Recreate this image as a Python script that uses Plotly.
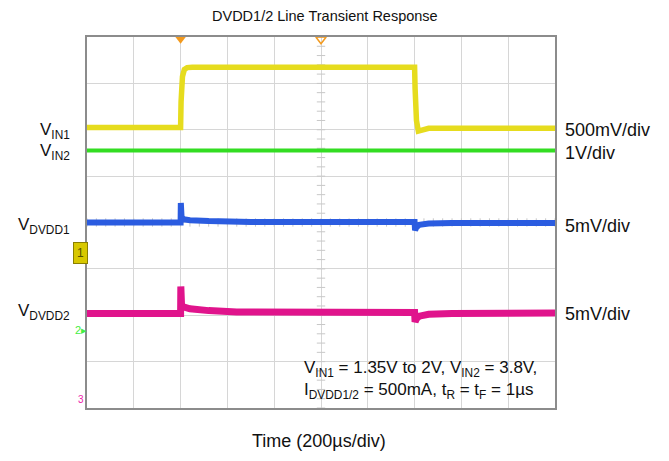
import numpy as np
import plotly.graph_objects as go

# ---------------- data (time in divisions, amplitude in screen divisions) ----------------
t_vin1 = [0, 2.0, 2.01, 2.04, 2.08, 2.14, 2.25, 7.0, 7.01, 7.04, 7.08, 7.14, 7.3, 10]
v_vin1 = [6.05, 6.05, 6.6, 7.15, 7.3, 7.34, 7.35, 7.35, 6.9, 6.2, 5.97, 5.99, 6.03, 6.03]

t_vin2 = [0, 10]
v_vin2 = [5.55, 5.55]

t_dvdd1 = [0, 2.0, 2.005, 2.02, 2.06, 2.2, 2.6, 3.5, 7.0, 7.01, 7.04, 7.1, 7.3, 7.8, 10]
v_dvdd1 = [4.0, 4.0, 4.42, 4.12, 4.07, 4.05, 4.03, 4.01, 4.01, 3.83, 3.9, 3.95, 3.98, 3.99, 3.99]

t_dvdd2 = [0, 2.0, 2.005, 2.02, 2.06, 2.2, 2.6, 3.2, 7.0, 7.01, 7.04, 7.1, 7.3, 7.8, 10]
v_dvdd2 = [2.04, 2.04, 2.62, 2.22, 2.18, 2.14, 2.1, 2.07, 2.06, 1.86, 1.93, 1.98, 2.02, 2.04, 2.05]

trigger_div = 2.0
center_div = 5.0

left_labels = ["V<sub>IN1</sub>", "V<sub>IN2</sub>", "V<sub>DVDD1</sub>", "V<sub>DVDD2</sub>"]
left_label_y = [5.97, 5.53, 3.92, 2.08]
right_labels = ["500mV/div", "1V/div", "5mV/div", "5mV/div"]
right_label_y = [6.0, 5.5, 3.93, 2.03]

title_text = "DVDD1/2 Line Transient Response"
xlabel_text = "Time (200µs/div)"
note_line1 = "V<sub>IN1</sub> = 1.35V to 2V, V<sub>IN2</sub> = 3.8V,"
note_line2 = "I<sub>DVDD1/2</sub> = 500mA, t<sub>R</sub> = t<sub>F</sub> = 1µs"

# ---------------- figure ----------------
FONT = "Liberation Sans, Arial, sans-serif"
fig = go.Figure()

# center-line minor ticks (scope graticule)
minor = np.arange(0, 10.001, 0.2)
minor_y = np.arange(0, 8.001, 0.2)
fig.add_trace(go.Scatter(x=minor, y=[4] * len(minor), mode="markers",
                         marker=dict(symbol="line-ns-open", size=6, color="#c8c8c8", line=dict(width=1)),
                         hoverinfo="skip", showlegend=False))
fig.add_trace(go.Scatter(x=[center_div] * len(minor_y), y=minor_y, mode="markers",
                         marker=dict(symbol="line-ew-open", size=6, color="#c8c8c8", line=dict(width=1)),
                         hoverinfo="skip", showlegend=False))

fig.add_trace(go.Scatter(x=t_vin1, y=v_vin1, mode="lines",
                         line=dict(color="#e6dc1e", width=5.5), showlegend=False))
fig.add_trace(go.Scatter(x=t_vin2, y=v_vin2, mode="lines",
                         line=dict(color="#33dd22", width=4), showlegend=False))
fig.add_trace(go.Scatter(x=t_dvdd1, y=v_dvdd1, mode="lines",
                         line=dict(color="#2b5ce0", width=6), showlegend=False))
fig.add_trace(go.Scatter(x=t_dvdd2, y=v_dvdd2, mode="lines",
                         line=dict(color="#e0148c", width=7), showlegend=False))

# trigger markers at top
fig.add_trace(go.Scatter(x=[trigger_div], y=[7.95], mode="markers", cliponaxis=False,
                         marker=dict(symbol="triangle-down", size=9, color="#f39a1e"),
                         showlegend=False, hoverinfo="skip"))
fig.add_trace(go.Scatter(x=[center_div], y=[7.95], mode="markers", cliponaxis=False,
                         marker=dict(symbol="triangle-down-open", size=9, color="#f39a1e",
                                     line=dict(width=1.5)),
                         showlegend=False, hoverinfo="skip"))

annotations = []
for txt, yv in zip(left_labels, left_label_y):
    annotations.append(dict(text=txt, x=-0.032, xref="paper", y=yv, yref="y",
                            xanchor="right", yanchor="middle", showarrow=False,
                            font=dict(family=FONT, size=17, color="#111")))
for txt, yv in zip(right_labels, right_label_y):
    annotations.append(dict(text=txt, x=1.017, xref="paper", y=yv, yref="y",
                            xanchor="left", yanchor="middle", showarrow=False,
                            font=dict(family=FONT, size=18, color="#111")))
annotations.append(dict(text=title_text, x=0.508, xref="paper", y=(408 - 16) / 371, yref="paper",
                        xanchor="center", yanchor="middle", showarrow=False,
                        font=dict(family=FONT, size=14.5, color="#111")))
annotations.append(dict(text=xlabel_text, x=0.496, xref="paper", y=(408 - 441) / 371, yref="paper",
                        xanchor="center", yanchor="middle", showarrow=False,
                        font=dict(family=FONT, size=18, color="#111")))
annotations.append(dict(text=note_line1, x=0.459, xref="paper", y=(408 - 369) / 371, yref="paper",
                        xanchor="left", yanchor="middle", showarrow=False,
                        font=dict(family=FONT, size=17, color="#111")))
annotations.append(dict(text=note_line2, x=0.459, xref="paper", y=(408 - 391) / 371, yref="paper",
                        xanchor="left", yanchor="middle", showarrow=False,
                        font=dict(family=FONT, size=17, color="#111")))
# channel ground markers on left edge
annotations.append(dict(text="1", x=-0.0135, xref="paper", y=(408 - 253) / 371, yref="paper",
                        xanchor="center", yanchor="middle", showarrow=False,
                        bgcolor="#d8c800", bordercolor="#8a7f00", borderwidth=1, borderpad=3,
                        font=dict(family=FONT, size=12, color="#555000")))
annotations.append(dict(text="2▸", x=-0.013, xref="paper", y=(408 - 330) / 371, yref="paper",
                        xanchor="center", yanchor="middle", showarrow=False,
                        font=dict(family=FONT, size=11, color="#44ee44")))
annotations.append(dict(text="3", x=-0.012, xref="paper", y=(408 - 399) / 371, yref="paper",
                        xanchor="center", yanchor="middle", showarrow=False,
                        font=dict(family=FONT, size=10, color="#ee22aa")))

# the page body adds an 8px offset, so the figure is 8px smaller and margins compensate
fig.update_layout(
    width=661, height=453,
    margin=dict(l=79, r=114, t=29, b=53),
    paper_bgcolor="white", plot_bgcolor="white",
    annotations=annotations,
    xaxis=dict(range=[0, 10], dtick=1, showgrid=True, gridcolor="#d6d6d6", gridwidth=1,
               showticklabels=False, ticks="", zeroline=False,
               showline=True, linecolor="#8c8c8c", linewidth=1.5, mirror=True),
    yaxis=dict(range=[0, 8], dtick=1, showgrid=True, gridcolor="#d6d6d6", gridwidth=1,
               showticklabels=False, ticks="", zeroline=False,
               showline=True, linecolor="#8c8c8c", linewidth=1.5, mirror=True),
)

fig.write_html("out.html")
